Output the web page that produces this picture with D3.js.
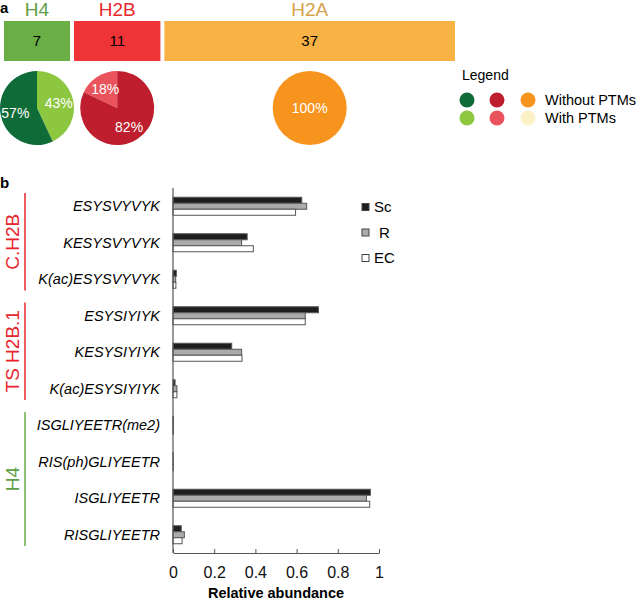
<!DOCTYPE html>
<html>
<head>
<meta charset="utf-8">
<script src="https://cdn.jsdelivr.net/npm/d3@7"></script>
<style>
  body { margin: 0; background: #fff; }
  svg { font-family: "Liberation Sans", Arial, sans-serif; }
</style>
</head>
<body>
<div id="chart"></div>
<script>
// panel a data
const histones = ['H4', 'H2B', 'H2A'];
const histoneCounts = [7, 11, 37];
const withPTMs = [43, 18, 0];
const withoutPTMs = [57, 82, 100];

// panel b data
const peptides = ['ESYSVYVYK', 'KESYSVYVYK', 'K(ac)ESYSVYVYK', 'ESYSIYIYK', 'KESYSIYIYK',
    'K(ac)ESYSIYIYK', 'ISGLIYEETR(me2)', 'RIS(ph)GLIYEETR', 'ISGLIYEETR', 'RISGLIYEETR'];
const series = ['Sc', 'R', 'EC'];
const scValues = [0.625, 0.36, 0.016, 0.706, 0.285, 0.01, 0.002, 0.001, 0.958, 0.04];
const rValues = [0.649, 0.333, 0.013, 0.642, 0.333, 0.019, 0.002, 0.001, 0.939, 0.055];
const ecValues = [0.595, 0.39, 0.014, 0.642, 0.335, 0.019, 0.002, 0.001, 0.955, 0.044];
const groupNames = ['C.H2B', 'TS H2B.1', 'H4'];
const groupFirst = ['ESYSVYVYK', 'ESYSIYIYK', 'ISGLIYEETR(me2)'];
const groupLast = ['K(ac)ESYSVYVYK', 'K(ac)ESYSIYIYK', 'RISGLIYEETR'];
const xTicks = [0, 0.2, 0.4, 0.6, 0.8, 1];

const titleColors = ['#5e9e45', '#e8262d', '#d6a24a'];
const barColors = ['#6aae46', '#ee3437', '#f9b244'];
const darkColors = ['#0f6b38', '#be1e2d', '#f7941d'];
const lightColors = ['#8dc63f', '#e9535b', '#fbf0c6'];
const seriesFill = ['#1e1e1e', '#ababab', '#ffffff'];

const svg = d3.select('#chart').append('svg')
    .attr('width', 638)
    .attr('height', 601);

// ---------- panel a ----------
svg.append('text').attr('x', 0).attr('y', 13)
    .attr('font-size', '15px').attr('font-weight', 'bold').text('a');

const gap = 4;
const barTop = 21, barH = 40;
const pieR = 37, pieY = 108;
const avail = 451 - gap * (histones.length - 1);

// boxes are proportional to the count, but never narrower than the pie under them
const minW = 2 * pieR - 8;
const k0 = avail / d3.sum(histoneCounts);
const small = histoneCounts.map(c => c * k0 < minW);
const bigSum = d3.sum(histoneCounts.filter((c, i) => !small[i]));
const wScale = d3.scaleLinear().domain([0, bigSum])
    .range([0, avail - minW * small.filter(s => s).length]);

let xCur = 4;
const blocks = histones.map((h, i) => {
    const w = small[i] ? minW : wScale(histoneCounts[i]);
    const b = {name: h, i: i, x0: xCur, w: w, cx: xCur + w / 2};
    xCur += w + gap;
    return b;
});

const aG = svg.append('g');
aG.selectAll('rect.hist')
    .data(blocks).enter().append('rect')
    .attr('class', 'hist')
    .attr('x', d => d.x0).attr('y', barTop)
    .attr('width', d => d.w).attr('height', barH)
    .attr('fill', d => barColors[d.i]);

aG.selectAll('text.count')
    .data(blocks).enter().append('text')
    .attr('x', d => d.cx).attr('y', barTop + barH / 2 + 5)
    .attr('text-anchor', 'middle').attr('font-size', '15px')
    .text(d => histoneCounts[d.i]);

aG.selectAll('text.title')
    .data(blocks).enter().append('text')
    .attr('x', d => d.cx).attr('y', 16)
    .attr('text-anchor', 'middle').attr('font-size', '19px')
    .attr('fill', d => titleColors[d.i])
    .text(d => d.name);

const arc = d3.arc().innerRadius(0).outerRadius(pieR);
const labelArc = d3.arc().innerRadius(pieR * 0.6).outerRadius(pieR * 0.6);

blocks.forEach(b => {
    const slices = [
        {v: withPTMs[b.i], color: lightColors[b.i]},
        {v: withoutPTMs[b.i], color: darkColors[b.i]}
    ];
    // H2B has its PTM slice drawn before 12 o'clock
    const start = b.i === 1 ? -2 * Math.PI * withPTMs[b.i] / 100 : 0;
    const pie = d3.pie().sort(null).value(d => d.v)
        .startAngle(start).endAngle(start + 2 * Math.PI);
    const g = aG.append('g').attr('transform', 'translate(' + b.cx + ',' + pieY + ')');
    const arcs = pie(slices).filter(d => d.data.v > 0);
    g.selectAll('path').data(arcs).enter().append('path')
        .attr('d', arc).attr('fill', d => d.data.color);
    g.selectAll('text').data(arcs).enter().append('text')
        .attr('transform', d => arcs.length === 1 ? 'translate(0,5)' : 'translate(' + labelArc.centroid(d) + ')')
        .attr('dy', arcs.length === 1 ? 0 : '0.35em')
        .attr('text-anchor', 'middle').attr('font-size', '14px').attr('fill', '#fff')
        .text(d => d.data.v + '%');
});

// legend a
const legA = svg.append('g');
legA.append('text').attr('x', 462).attr('y', 80).attr('font-size', '14px').text('Legend');
const legX = [467, 497, 528];
[darkColors, lightColors].forEach((cols, r) => {
    legA.selectAll('circle.r' + r).data(cols).enter().append('circle')
        .attr('class', 'r' + r)
        .attr('cx', (d, i) => legX[i]).attr('cy', 100 + r * 18)
        .attr('r', 7.5).attr('fill', d => d);
});
legA.append('text').attr('x', 545).attr('y', 105).attr('font-size', '14.5px').text('Without PTMs');
legA.append('text').attr('x', 545).attr('y', 123).attr('font-size', '14.5px').text('With PTMs');

// ---------- panel b ----------
svg.append('text').attr('x', 0).attr('y', 188)
    .attr('font-size', '15px').attr('font-weight', 'bold').text('b');

const x = d3.scaleLinear().domain([0, 1]).range([173, 379]);
const y = d3.scaleBand().domain(peptides).range([188, 553]);
const barBlock = 18;
const ySub = d3.scaleBand().domain(series).range([0, barBlock]);
const valueLists = [scValues, rValues, ecValues];

const bars = [];
peptides.forEach((p, i) => {
    series.forEach((s, j) => bars.push({p: p, s: s, j: j, v: valueLists[j][i]}));
});

const bG = svg.append('g');
bG.selectAll('rect').data(bars).enter().append('rect')
    .attr('x', x(0))
    .attr('y', d => y(d.p) + (y.bandwidth() - barBlock) / 2 + ySub(d.s))
    .attr('width', d => x(d.v) - x(0))
    .attr('height', ySub.bandwidth())
    .attr('fill', d => seriesFill[d.j])
    .attr('stroke', '#555').attr('stroke-width', 1);

// y axis line
bG.append('line')
    .attr('x1', x(0)).attr('x2', x(0))
    .attr('y1', y.range()[0]).attr('y2', y.range()[1])
    .attr('stroke', '#555').attr('stroke-width', 1.2);

bG.selectAll('text.pep').data(peptides).enter().append('text')
    .attr('class', 'pep')
    .attr('x', 160).attr('y', d => y(d) + y.bandwidth() / 2 + 5)
    .attr('text-anchor', 'end').attr('font-size', '14.5px').attr('font-style', 'italic')
    .text(d => d);

const xAxis = d3.axisBottom(x).tickValues(xTicks).tickSize(-4).tickSizeOuter(0)
    .tickPadding(14).tickFormat(d3.format('~g'));
const axG = svg.append('g').attr('transform', 'translate(0,553)').call(xAxis);
axG.select('.domain').attr('stroke', '#555');
axG.selectAll('.tick line').attr('stroke', '#555');
axG.selectAll('.tick text').attr('font-size', '16px').attr('fill', '#111')
    .attr('font-family', '"Liberation Sans", Arial, sans-serif');

svg.append('text').attr('x', (x(0) + x(1)) / 2).attr('y', 598)
    .attr('text-anchor', 'middle').attr('font-size', '14.5px').attr('font-weight', 'bold')
    .text('Relative abundance');

// group brackets
const groupColors = ['#e8262d', '#e8262d', '#6aae46'];
const groupText = ['#e8262d', '#e8262d', '#5e9e45'];
groupNames.forEach((g, i) => {
    const y0 = y(groupFirst[i]) + 5;
    const y1 = y(groupLast[i]) + y.bandwidth() - 7;
    svg.append('line').attr('x1', 25).attr('x2', 25).attr('y1', y0).attr('y2', y1)
        .attr('stroke', groupColors[i]).attr('stroke-width', 1.5);
    svg.append('text')
        .attr('transform', 'translate(19,' + (y0 + y1) / 2 + ') rotate(-90)')
        .attr('text-anchor', 'middle').attr('font-size', '19px')
        .attr('fill', groupText[i]).text(g);
});

// legend b
const legB = svg.append('g');
series.forEach((s, j) => {
    const ly = 207 + j * 25.5;
    legB.append('rect').attr('x', 362).attr('y', ly - 3.5).attr('width', 7).attr('height', 7)
        .attr('fill', seriesFill[j]).attr('stroke', '#444');
    legB.append('text').attr('x', s === 'R' ? 379 : 374).attr('y', ly + 5)
        .attr('font-size', '15px').text(s);
});
</script>
</body>
</html>
